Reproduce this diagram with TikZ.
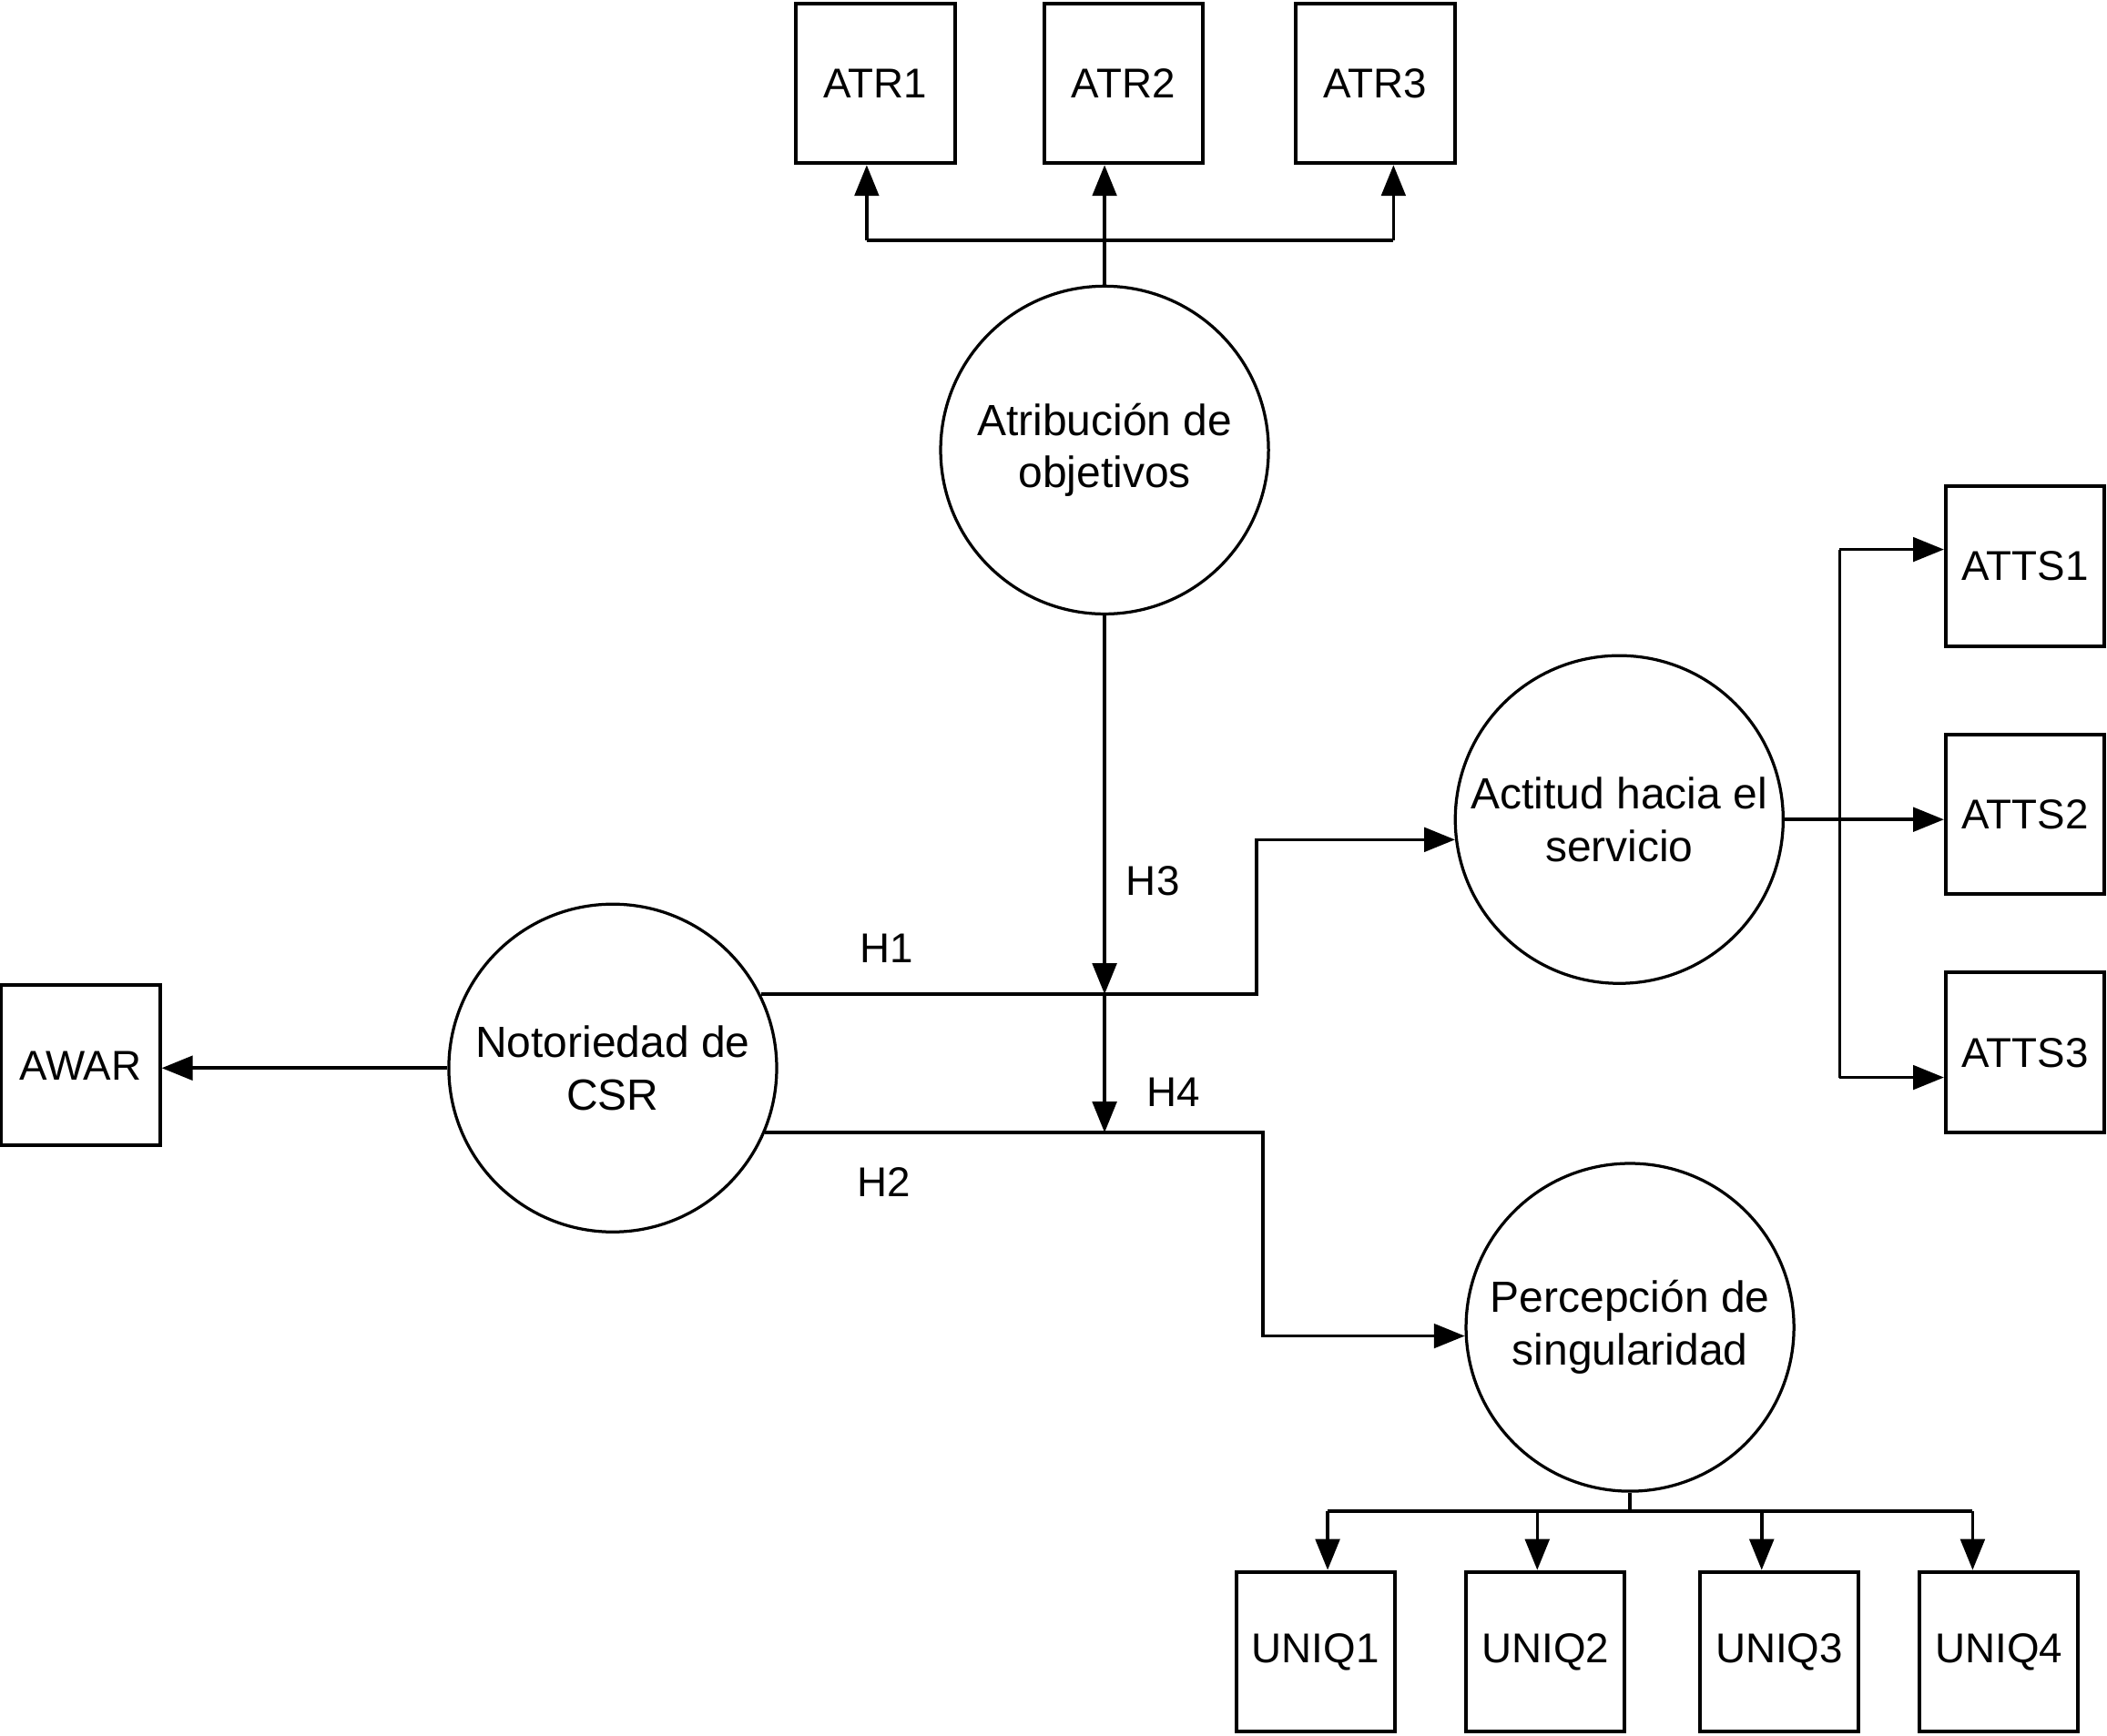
\documentclass[tikz,border=0pt]{standalone}
\usepackage{fontspec}
\setmainfont{Liberation Sans}
\usetikzlibrary{arrows.meta}
\begin{document}
\begin{tikzpicture}[x=1pt,y=-1pt,
  boxnode/.style={draw,line width=2.7pt,minimum width=118pt,minimum height=119pt,inner sep=0pt,font=\fontsize{31}{39}\selectfont},
  circnode/.style={draw,circle,line width=2.2pt,minimum size=244pt,inner sep=0pt,align=center,font=\fontsize{32.5}{39}\selectfont},
  lab/.style={font=\fontsize{31}{39}\selectfont,inner sep=0pt},
  conn/.style={line width=2.4pt},
  arr/.style={line width=2.4pt,-{Triangle[length=23pt,width=18pt]}}]
\useasboundingbox (0,0) rectangle (1568,1292);
% boxes
\node[boxnode] (ATR1) at (651.5,62) {ATR1};
\node[boxnode] (ATR2) at (836,62) {ATR2};
\node[boxnode] (ATR3) at (1023.5,62) {ATR3};
\node[boxnode] (ATTS1) at (1507,421.5) {ATTS1};
\node[boxnode] (ATTS2) at (1507,606) {ATTS2};
\node[boxnode] (ATTS3) at (1507,783.5) {ATTS3};
\node[boxnode] (AWAR) at (60,793) {AWAR};
\node[boxnode] (UNIQ1) at (979,1229.5) {UNIQ1};
\node[boxnode] (UNIQ2) at (1150,1229.5) {UNIQ2};
\node[boxnode] (UNIQ3) at (1324,1229.5) {UNIQ3};
\node[boxnode] (UNIQ4) at (1487.5,1229.5) {UNIQ4};
% circles
\node[circnode] (Atr) at (822,335) {Atribución de\\objetivos};
\node[circnode] (Act) at (1205,610) {Actitud hacia el\\servicio};
\node[circnode] (Not) at (456,795) {Notoriedad de\\CSR};
\node[circnode] (Perc) at (1213,988) {Percepción de\\singularidad};
% labels
\node[lab] (H3) at (858,656) {H3};
\node[lab] (H1) at (660,706) {H1};
\node[lab] (H4) at (873,813) {H4};
\node[lab] (H2) at (658,880) {H2};
% ATR connectors
\coordinate (b1) at (645,179);
\coordinate (b2) at (822,179);
\coordinate (b3) at (1037,179);
\draw[conn] (Atr.north) -- (b2);
\draw[conn] (b1) -- (b3);
\draw[arr] (b1) -- (b1 |- ATR1.south);
\draw[arr] (b2) -- (b2 |- ATR2.south);
\draw[arr] (b3) -- (b3 |- ATR3.south);
% H1 and H2 paths
\coordinate (j1) at (822,740);
\coordinate (j2) at (822,843);
\coordinate (k1) at (935,740);
\coordinate (k2) at (940,843);
\draw[arr] (Not.26.6 |- k1) -- (k1) |- (Act.187.5);
\draw[arr] (Not.-23 |- k2) -- (k2) |- (Perc.183.3);
% H3 and H4
\draw[arr] (Atr.south) -- (j1);
\draw[arr] (j1) -- (j2);
% AWAR
\draw[arr] (Not.west) -- (Not.west -| AWAR.east);
% ATTS
\coordinate (a1) at (1369,409);
\coordinate (a3) at (1369,802);
\draw[conn] (a1) -- (a3);
\draw[arr] (Act.east) -- (Act.east -| ATTS2.west);
\draw[arr] (a1) -- (a1 -| ATTS1.west);
\draw[arr] (a3) -- (a3 -| ATTS3.west);
% UNIQ
\coordinate (u1) at (988,1125);
\coordinate (u2) at (1144,1125);
\coordinate (u3) at (1311,1125);
\coordinate (u4) at (1468,1125);
\draw[conn] (Perc.south) -- (Perc.south |- u1);
\draw[conn] (u1) -- (u4);
\draw[arr] (u1) -- (u1 |- UNIQ1.north);
\draw[arr] (u2) -- (u2 |- UNIQ2.north);
\draw[arr] (u3) -- (u3 |- UNIQ3.north);
\draw[arr] (u4) -- (u4 |- UNIQ4.north);
\end{tikzpicture}
\end{document}
